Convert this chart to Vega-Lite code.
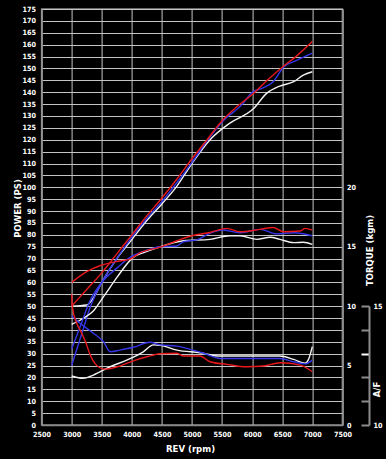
{
  "$schema": "https://vega.github.io/schema/vega-lite/v6.json",
  "width": 300.8,
  "height": 416,
  "autosize": "none",
  "padding": {"left": 41.6, "top": 9, "right": 43.6, "bottom": 34},
  "background": "#000000",
  "config": {
    "view": {"stroke": "#8a8a8a", "strokeWidth": 1.5},
    "axis": {
      "labelFont": "DejaVu Sans Condensed, Liberation Sans, sans-serif",
      "labelFontWeight": "bold",
      "labelFontSize": 7.2,
      "labelColor": "#ffffff",
      "titleFont": "DejaVu Sans Condensed, Liberation Sans, sans-serif",
      "titleFontWeight": "bold",
      "titleFontSize": 9.5,
      "titleColor": "#ffffff",
      "domainColor": "#8a8a8a",
      "domainWidth": 1.5,
      "gridColor": "#c4c4c4",
      "gridWidth": 1,
      "gridOpacity": 1,
      "ticks": false,
      "format": "d"
    }
  },
  "data": {
    "values": [
      {"r": 3000, "s": "white", "m": "P", "v": 50},
      {"r": 3250, "s": "white", "m": "P", "v": 50.5},
      {"r": 3350, "s": "white", "m": "P", "v": 53},
      {"r": 3500, "s": "white", "m": "P", "v": 60},
      {"r": 3750, "s": "white", "m": "P", "v": 70},
      {"r": 4000, "s": "white", "m": "P", "v": 78},
      {"r": 4250, "s": "white", "m": "P", "v": 86},
      {"r": 4500, "s": "white", "m": "P", "v": 93},
      {"r": 4750, "s": "white", "m": "P", "v": 100.5},
      {"r": 5000, "s": "white", "m": "P", "v": 110},
      {"r": 5300, "s": "white", "m": "P", "v": 120},
      {"r": 5630, "s": "white", "m": "P", "v": 127},
      {"r": 6020, "s": "white", "m": "P", "v": 133},
      {"r": 6240, "s": "white", "m": "P", "v": 139.5},
      {"r": 6460, "s": "white", "m": "P", "v": 142.6},
      {"r": 6690, "s": "white", "m": "P", "v": 144.4},
      {"r": 6850, "s": "white", "m": "P", "v": 147.2},
      {"r": 7000, "s": "white", "m": "P", "v": 148.6},

      {"r": 3000, "s": "blue", "m": "P", "v": 25},
      {"r": 3100, "s": "blue", "m": "P", "v": 33},
      {"r": 3200, "s": "blue", "m": "P", "v": 41},
      {"r": 3300, "s": "blue", "m": "P", "v": 49},
      {"r": 3400, "s": "blue", "m": "P", "v": 55},
      {"r": 3500, "s": "blue", "m": "P", "v": 60},
      {"r": 3750, "s": "blue", "m": "P", "v": 70},
      {"r": 4000, "s": "blue", "m": "P", "v": 79},
      {"r": 4250, "s": "blue", "m": "P", "v": 87},
      {"r": 4500, "s": "blue", "m": "P", "v": 94},
      {"r": 4750, "s": "blue", "m": "P", "v": 102},
      {"r": 5000, "s": "blue", "m": "P", "v": 110.5},
      {"r": 5250, "s": "blue", "m": "P", "v": 119.5},
      {"r": 5500, "s": "blue", "m": "P", "v": 127.5},
      {"r": 5850, "s": "blue", "m": "P", "v": 135.3},
      {"r": 6000, "s": "blue", "m": "P", "v": 140},
      {"r": 6150, "s": "blue", "m": "P", "v": 141.5},
      {"r": 6350, "s": "blue", "m": "P", "v": 144.4},
      {"r": 6520, "s": "blue", "m": "P", "v": 150.5},
      {"r": 6750, "s": "blue", "m": "P", "v": 153.5},
      {"r": 7000, "s": "blue", "m": "P", "v": 156.4},

      {"r": 3000, "s": "red", "m": "P", "v": 50},
      {"r": 3250, "s": "red", "m": "P", "v": 57},
      {"r": 3500, "s": "red", "m": "P", "v": 64},
      {"r": 3750, "s": "red", "m": "P", "v": 72},
      {"r": 4000, "s": "red", "m": "P", "v": 80},
      {"r": 4250, "s": "red", "m": "P", "v": 88},
      {"r": 4500, "s": "red", "m": "P", "v": 95.5},
      {"r": 4750, "s": "red", "m": "P", "v": 103.5},
      {"r": 5000, "s": "red", "m": "P", "v": 112},
      {"r": 5250, "s": "red", "m": "P", "v": 120},
      {"r": 5500, "s": "red", "m": "P", "v": 128},
      {"r": 5750, "s": "red", "m": "P", "v": 134},
      {"r": 6000, "s": "red", "m": "P", "v": 139},
      {"r": 6250, "s": "red", "m": "P", "v": 145},
      {"r": 6500, "s": "red", "m": "P", "v": 150.5},
      {"r": 6750, "s": "red", "m": "P", "v": 155.5},
      {"r": 7000, "s": "red", "m": "P", "v": 161.3},

      {"r": 3000, "s": "white", "m": "T", "v": 8.46},
      {"r": 3200, "s": "white", "m": "T", "v": 9.0},
      {"r": 3360, "s": "white", "m": "T", "v": 9.6},
      {"r": 3530, "s": "white", "m": "T", "v": 10.8},
      {"r": 3750, "s": "white", "m": "T", "v": 12.4},
      {"r": 4000, "s": "white", "m": "T", "v": 14.0},
      {"r": 4250, "s": "white", "m": "T", "v": 14.6},
      {"r": 4470, "s": "white", "m": "T", "v": 15.0},
      {"r": 4860, "s": "white", "m": "T", "v": 15.5},
      {"r": 5300, "s": "white", "m": "T", "v": 15.62},
      {"r": 5630, "s": "white", "m": "T", "v": 15.92},
      {"r": 5800, "s": "white", "m": "T", "v": 15.92},
      {"r": 6080, "s": "white", "m": "T", "v": 15.62},
      {"r": 6300, "s": "white", "m": "T", "v": 15.8},
      {"r": 6460, "s": "white", "m": "T", "v": 15.62},
      {"r": 6690, "s": "white", "m": "T", "v": 15.34},
      {"r": 6850, "s": "white", "m": "T", "v": 15.38},
      {"r": 7000, "s": "white", "m": "T", "v": 15.2},

      {"r": 3000, "s": "blue", "m": "T", "v": 6.4},
      {"r": 3150, "s": "blue", "m": "T", "v": 8.4},
      {"r": 3300, "s": "blue", "m": "T", "v": 10.4},
      {"r": 3500, "s": "blue", "m": "T", "v": 12.0},
      {"r": 3750, "s": "blue", "m": "T", "v": 13.2},
      {"r": 4000, "s": "blue", "m": "T", "v": 14.2},
      {"r": 4250, "s": "blue", "m": "T", "v": 14.7},
      {"r": 4470, "s": "blue", "m": "T", "v": 15.0},
      {"r": 4750, "s": "blue", "m": "T", "v": 15.06},
      {"r": 4860, "s": "blue", "m": "T", "v": 15.42},
      {"r": 5080, "s": "blue", "m": "T", "v": 15.58},
      {"r": 5300, "s": "blue", "m": "T", "v": 16.14},
      {"r": 5500, "s": "blue", "m": "T", "v": 16.4},
      {"r": 5800, "s": "blue", "m": "T", "v": 16.18},
      {"r": 6130, "s": "blue", "m": "T", "v": 16.46},
      {"r": 6410, "s": "blue", "m": "T", "v": 16.08},
      {"r": 6690, "s": "blue", "m": "T", "v": 16.18},
      {"r": 7000, "s": "blue", "m": "T", "v": 15.92},

      {"r": 3000, "s": "red", "m": "T", "v": 12.0},
      {"r": 3250, "s": "red", "m": "T", "v": 12.9},
      {"r": 3500, "s": "red", "m": "T", "v": 13.46},
      {"r": 3800, "s": "red", "m": "T", "v": 13.8},
      {"r": 3970, "s": "red", "m": "T", "v": 13.96},
      {"r": 4140, "s": "red", "m": "T", "v": 14.5},
      {"r": 4470, "s": "red", "m": "T", "v": 14.96},
      {"r": 4750, "s": "red", "m": "T", "v": 15.5},
      {"r": 5000, "s": "red", "m": "T", "v": 15.92},
      {"r": 5300, "s": "red", "m": "T", "v": 16.2},
      {"r": 5580, "s": "red", "m": "T", "v": 16.54},
      {"r": 5800, "s": "red", "m": "T", "v": 16.26},
      {"r": 6130, "s": "red", "m": "T", "v": 16.46},
      {"r": 6350, "s": "red", "m": "T", "v": 16.62},
      {"r": 6520, "s": "red", "m": "T", "v": 16.26},
      {"r": 6800, "s": "red", "m": "T", "v": 16.32},
      {"r": 6880, "s": "red", "m": "T", "v": 16.54},
      {"r": 7000, "s": "red", "m": "T", "v": 16.4},

      {"r": 3000, "s": "white", "m": "AF", "v": 12.06},
      {"r": 3190, "s": "white", "m": "AF", "v": 11.96},
      {"r": 3360, "s": "white", "m": "AF", "v": 12.1},
      {"r": 3640, "s": "white", "m": "AF", "v": 12.45},
      {"r": 3915, "s": "white", "m": "AF", "v": 12.73},
      {"r": 4190, "s": "white", "m": "AF", "v": 13.08},
      {"r": 4360, "s": "white", "m": "AF", "v": 13.37},
      {"r": 4470, "s": "white", "m": "AF", "v": 13.35},
      {"r": 4750, "s": "white", "m": "AF", "v": 13.15},
      {"r": 5130, "s": "white", "m": "AF", "v": 13.04},
      {"r": 5470, "s": "white", "m": "AF", "v": 12.9},
      {"r": 6460, "s": "white", "m": "AF", "v": 12.9},
      {"r": 6690, "s": "white", "m": "AF", "v": 12.76},
      {"r": 6880, "s": "white", "m": "AF", "v": 12.6},
      {"r": 6935, "s": "white", "m": "AF", "v": 12.75},
      {"r": 7000, "s": "white", "m": "AF", "v": 13.3},

      {"r": 3000, "s": "blue", "m": "AF", "v": 14.6},
      {"r": 3140, "s": "blue", "m": "AF", "v": 14.28},
      {"r": 3360, "s": "blue", "m": "AF", "v": 13.86},
      {"r": 3530, "s": "blue", "m": "AF", "v": 13.5},
      {"r": 3640, "s": "blue", "m": "AF", "v": 13.08},
      {"r": 3800, "s": "blue", "m": "AF", "v": 13.15},
      {"r": 4025, "s": "blue", "m": "AF", "v": 13.27},
      {"r": 4300, "s": "blue", "m": "AF", "v": 13.48},
      {"r": 4470, "s": "blue", "m": "AF", "v": 13.37},
      {"r": 4750, "s": "blue", "m": "AF", "v": 13.32},
      {"r": 4970, "s": "blue", "m": "AF", "v": 13.18},
      {"r": 5190, "s": "blue", "m": "AF", "v": 13.02},
      {"r": 5470, "s": "blue", "m": "AF", "v": 12.8},
      {"r": 5850, "s": "blue", "m": "AF", "v": 12.8},
      {"r": 6460, "s": "blue", "m": "AF", "v": 12.8},
      {"r": 6690, "s": "blue", "m": "AF", "v": 12.66},
      {"r": 6880, "s": "blue", "m": "AF", "v": 12.57},
      {"r": 7000, "s": "blue", "m": "AF", "v": 12.73},

      {"r": 3000, "s": "red", "m": "AF", "v": 15.5},
      {"r": 3010, "s": "red", "m": "AF", "v": 15.0},
      {"r": 3080, "s": "red", "m": "AF", "v": 14.3},
      {"r": 3150, "s": "red", "m": "AF", "v": 13.95},
      {"r": 3230, "s": "red", "m": "AF", "v": 13.5},
      {"r": 3300, "s": "red", "m": "AF", "v": 13.0},
      {"r": 3400, "s": "red", "m": "AF", "v": 12.55},
      {"r": 3550, "s": "red", "m": "AF", "v": 12.35},
      {"r": 3800, "s": "red", "m": "AF", "v": 12.48},
      {"r": 4025, "s": "red", "m": "AF", "v": 12.7},
      {"r": 4250, "s": "red", "m": "AF", "v": 12.87},
      {"r": 4470, "s": "red", "m": "AF", "v": 13.0},
      {"r": 4750, "s": "red", "m": "AF", "v": 13.02},
      {"r": 4860, "s": "red", "m": "AF", "v": 12.9},
      {"r": 5130, "s": "red", "m": "AF", "v": 12.9},
      {"r": 5300, "s": "red", "m": "AF", "v": 12.66},
      {"r": 5580, "s": "red", "m": "AF", "v": 12.55},
      {"r": 5910, "s": "red", "m": "AF", "v": 12.45},
      {"r": 6190, "s": "red", "m": "AF", "v": 12.48},
      {"r": 6460, "s": "red", "m": "AF", "v": 12.62},
      {"r": 6800, "s": "red", "m": "AF", "v": 12.52},
      {"r": 7000, "s": "red", "m": "AF", "v": 12.24}
    ]
  },
  "encoding": {
    "x": {
      "field": "r",
      "type": "quantitative",
      "scale": {"domain": [2500, 7500], "nice": false, "zero": false},
      "axis": {
        "title": "REV (rpm)",
        "values": [2500, 3000, 3500, 4000, 4500, 5000, 5500, 6000, 6500, 7000, 7500],
        "labelPadding": 5,
        "labelFlush": false,
        "titleX": 148.4,
        "titleY": 23,
        "titleBaseline": "middle",
        "titleAlign": "center"
      }
    },
    "color": {
      "field": "s",
      "type": "nominal",
      "scale": {"domain": ["white", "blue", "red"], "range": ["#f2f2f2", "#3535e8", "#e8181c"]},
      "legend": null
    }
  },
  "layer": [
    {
      "transform": [{"filter": "datum.m == 'P'"}],
      "mark": {"type": "line", "interpolate": "monotone", "strokeWidth": 1.4},
      "encoding": {
        "y": {
          "field": "v",
          "type": "quantitative",
          "scale": {"domain": [0, 175], "nice": false},
          "axis": {
            "orient": "left",
            "title": "POWER (PS)",
            "values": [0,5,10,15,20,25,30,35,40,45,50,55,60,65,70,75,80,85,90,95,100,105,110,115,120,125,130,135,140,145,150,155,160,165,170,175],
            "labelPadding": 6,
            "labelFlush": false,
            "titleAngle": 270,
            "titleX": -24,
            "titleY": 199,
            "titleAlign": "center",
            "titleBaseline": "middle"
          }
        }
      }
    },
    {
      "transform": [{"filter": "datum.m == 'T'"}],
      "mark": {"type": "line", "interpolate": "monotone", "strokeWidth": 1.4},
      "encoding": {
        "y": {
          "field": "v",
          "type": "quantitative",
          "scale": {"domain": [0, 35], "nice": false},
          "axis": {
            "orient": "right",
            "title": "TORQUE (kgm)",
            "values": [0, 5, 10, 15, 20],
            "grid": false,
            "labelPadding": 4,
            "labelFlush": false,
            "titleAngle": 270,
            "titleX": 27,
            "titleY": 241,
            "titleAlign": "center",
            "titleBaseline": "middle"
          }
        }
      }
    },
    {
      "transform": [{"filter": "datum.m == 'AF'"}],
      "mark": {"type": "line", "interpolate": "monotone", "strokeWidth": 1.4},
      "encoding": {
        "y": {
          "field": "v",
          "type": "quantitative",
          "scale": {"domain": [10, 27.5], "nice": false, "zero": false},
          "axis": {
            "orient": "right",
            "offset": 26.6,
            "title": "A/F",
            "values": [10, 11, 12, 13, 14, 15],
            "grid": false,
            "ticks": true,
            "tickSize": -8,
            "tickWidth": 2,
            "tickColor": {"condition": {"test": "datum.value == 13", "value": "#ffffff"}, "value": "#8c8c8c"},
            "domainColor": "#8c8c8c",
            "domainWidth": 2,
            "domainDash": [119, 600],
            "labelExpr": "datum.value == 10 || datum.value == 15 ? datum.label : ''",
            "labelPadding": 12,
            "labelFlush": false,
            "titleAngle": 270,
            "titleX": 7,
            "titleY": 380,
            "titleAlign": "center",
            "titleBaseline": "middle"
          }
        }
      }
    }
  ],
  "resolve": {"scale": {"y": "independent"}}
}
